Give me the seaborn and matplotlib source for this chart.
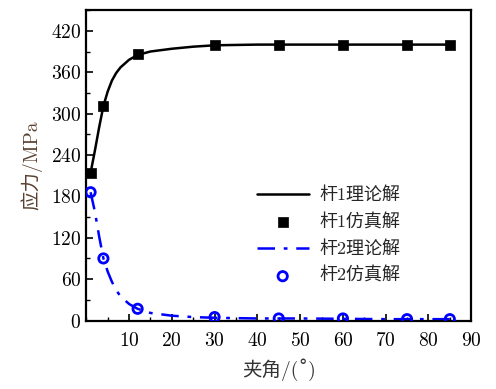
import matplotlib
matplotlib.use("Agg")
import matplotlib.pyplot as plt
import seaborn as sns
import pandas as pd
from matplotlib.ticker import MultipleLocator

# theoretical curves
theory_angle = [1, 2, 3, 4, 5, 6, 7, 8, 10, 12, 15, 20, 25, 30, 40, 50, 60, 70, 85]
rod1_theory = [214, 246, 280, 311, 332, 348, 359, 367, 378, 385, 390, 394, 397, 399, 400, 400, 400, 400, 400]
rod2_theory = [186, 158, 122, 90, 71, 56, 44, 35, 24, 17, 11, 7, 5, 4, 3, 3, 2.5, 2, 2]

# simulation points
sim_angle = [1, 4, 12, 30, 45, 60, 75, 85]
rod1_sim = [214, 311, 386, 399, 400, 400, 400, 400]
rod2_sim = [186, 90, 17, 5, 3, 3, 2, 2]

labels = ["杆1理论解", "杆1仿真解", "杆2理论解", "杆2仿真解"]
xlabel = "夹角/(\u02da)"
ylabel = "应力/MPa"

sns.set_style("ticks")
plt.rcParams['font.family'] = ['cmr10', 'Noto Sans CJK SC', 'DejaVu Sans']
plt.rcParams['axes.formatter.use_mathtext'] = True
plt.rcParams['mathtext.fontset'] = 'cm'

fig = plt.figure(figsize=(4.96, 3.89), dpi=100)
ax = fig.add_axes([0.174, 0.176, 0.776, 0.798])

dft = pd.DataFrame({"x": theory_angle, "y1": rod1_theory, "y2": rod2_theory})
dfs = pd.DataFrame({"x": sim_angle, "y1": rod1_sim, "y2": rod2_sim})

sns.lineplot(data=dft, x="x", y="y1", ax=ax, color="black", lw=1.8, label=labels[0])
sns.scatterplot(data=dfs, x="x", y="y1", ax=ax, color="black", marker="s", s=55,
                edgecolor="black", linewidth=0.5, label=labels[1], zorder=5)
sns.lineplot(data=dft, x="x", y="y2", ax=ax, color="#0000ff", lw=1.8,
             dashes=False, label=labels[2])
ax.lines[-1].set_dashes([7, 3.5, 1.5, 3.5])
sns.scatterplot(data=dfs, x="x", y="y2", ax=ax, marker="o", s=45,
                facecolor="none", edgecolor="#0000ff", linewidth=2, label=labels[3], zorder=5)

ax.set_xlim(0, 90)
ax.set_ylim(0, 450)
ax.xaxis.set_major_locator(MultipleLocator(10))
ax.xaxis.set_minor_locator(MultipleLocator(5))
ax.yaxis.set_major_locator(MultipleLocator(60))
ax.yaxis.set_minor_locator(MultipleLocator(30))
ax.set_xticks(range(10, 91, 10))
ax.tick_params(which="both", direction="in", labelsize=14, colors="black")
ax.tick_params(axis="x", which="major", pad=8)
ax.tick_params(which="major", length=5, width=1.2)
ax.tick_params(which="minor", length=3, width=1)
for s in ax.spines.values():
    s.set_linewidth(1.6)
    s.set_color("black")
    s.set_visible(True)

ax.set_xlabel(xlabel, fontsize=14, color="#333333", labelpad=6)
ax.set_ylabel(ylabel, fontsize=14, color="#5a4030", labelpad=6)

leg = ax.legend(loc="center left", bbox_to_anchor=(0.40, 0.275), frameon=False,
                fontsize=13, handlelength=2.9, handletextpad=0.6, labelspacing=0.55)

fig.savefig("out.png", dpi=100)
